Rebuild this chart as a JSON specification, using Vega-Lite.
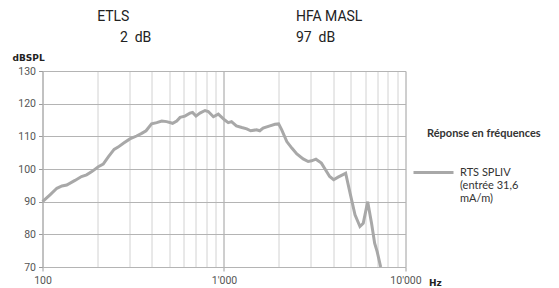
{
  "$schema": "https://vega.github.io/schema/vega-lite/v6.json",
  "autosize": "none",
  "width": 363,
  "height": 196,
  "padding": {"left": 42.5, "top": 71, "right": 153.5, "bottom": 21},
  "background": "white",
  "config": {"view": {"stroke": null}, "font": "Roboto"},
  "datasets": {
    "curve": [
      {"f": 100, "db": 90.0}, {"f": 110, "db": 92.1}, {"f": 120, "db": 94.1}, {"f": 128, "db": 94.8},
      {"f": 136, "db": 95.1}, {"f": 151, "db": 96.5}, {"f": 164, "db": 97.7}, {"f": 175, "db": 98.2},
      {"f": 187, "db": 99.2}, {"f": 203, "db": 100.7}, {"f": 216, "db": 101.5}, {"f": 231, "db": 103.8},
      {"f": 248, "db": 106.0}, {"f": 261, "db": 106.7}, {"f": 279, "db": 107.9}, {"f": 303, "db": 109.2},
      {"f": 330, "db": 110.1}, {"f": 352, "db": 110.9}, {"f": 372, "db": 111.7}, {"f": 399, "db": 113.8},
      {"f": 426, "db": 114.2}, {"f": 454, "db": 114.7}, {"f": 483, "db": 114.5}, {"f": 521, "db": 114.0},
      {"f": 549, "db": 114.7}, {"f": 573, "db": 115.8}, {"f": 609, "db": 116.2}, {"f": 649, "db": 117.1},
      {"f": 671, "db": 117.3}, {"f": 701, "db": 116.2}, {"f": 737, "db": 117.1}, {"f": 786, "db": 117.9},
      {"f": 819, "db": 117.6}, {"f": 874, "db": 116.0}, {"f": 930, "db": 116.8}, {"f": 1010, "db": 115.0},
      {"f": 1056, "db": 114.2}, {"f": 1100, "db": 114.5}, {"f": 1170, "db": 113.2}, {"f": 1253, "db": 112.7},
      {"f": 1335, "db": 112.3}, {"f": 1403, "db": 111.7}, {"f": 1510, "db": 112.0}, {"f": 1575, "db": 111.7},
      {"f": 1642, "db": 112.5}, {"f": 1790, "db": 113.2}, {"f": 1910, "db": 113.7}, {"f": 2000, "db": 113.8},
      {"f": 2080, "db": 112.0}, {"f": 2218, "db": 108.4}, {"f": 2364, "db": 106.4}, {"f": 2520, "db": 104.6},
      {"f": 2730, "db": 103.1}, {"f": 2910, "db": 102.3}, {"f": 3040, "db": 102.5}, {"f": 3210, "db": 103.0},
      {"f": 3440, "db": 101.8}, {"f": 3630, "db": 99.7}, {"f": 3820, "db": 97.7}, {"f": 4020, "db": 96.7},
      {"f": 4250, "db": 97.5}, {"f": 4500, "db": 98.2}, {"f": 4680, "db": 98.7}, {"f": 4950, "db": 92.6},
      {"f": 5270, "db": 86.0}, {"f": 5610, "db": 82.4}, {"f": 5850, "db": 83.4}, {"f": 6190, "db": 90.0},
      {"f": 6500, "db": 83.4}, {"f": 6760, "db": 77.3}, {"f": 6980, "db": 74.7}, {"f": 7300, "db": 70.0}
    ],
    "notes": [
      {"f": 200, "db": 146.5, "label": "ETLS"},
      {"f": 267, "db": 140.1, "label": "2\u00a0 dB"},
      {"f": 2490, "db": 146.5, "label": "HFA MASL"},
      {"f": 2490, "db": 140.1, "label": "97\u00a0 dB"}
    ]
  },
  "resolve": {"axis": {"x": "independent"}},
  "layer": [
    {
      "data": {"name": "curve"},
      "transform": [{"calculate": "'RTS SPLIV'", "as": "series"}],
      "mark": {"type": "line", "strokeWidth": 3, "interpolate": "linear"},
      "encoding": {
        "x": {
          "field": "f", "type": "quantitative",
          "scale": {"type": "log", "domain": [100, 10000], "nice": false},
          "axis": {
            "orient": "bottom",
            "values": [100, 200, 300, 400, 500, 600, 700, 800, 900, 1000, 2000, 3000, 4000, 5000, 6000, 7000, 8000, 9000, 10000],
            "grid": true, "gridColor": "#d2d2d2", "gridWidth": 1,
            "labels": false, "ticks": false, "domain": false, "title": null
          }
        },
        "y": {
          "field": "db", "type": "quantitative",
          "scale": {"domain": [70, 130], "nice": false, "zero": false},
          "axis": {
            "values": [70, 80, 90, 100, 110, 120, 130], "labelOverlap": false,
            "grid": true, "gridColor": "#b4b4b4",
            "domainColor": "#b4b4b4", "tickColor": "#9a9a9a", "tickSize": 4,
            "labelColor": "#555555", "labelFontSize": 10.5, "labelFont": "Roboto", "labelPadding": 3,
            "title": "dBSPL", "titleAngle": 0, "titleAlign": "left", "titleBaseline": "middle",
            "titleX": -30.5, "titleY": -14, "titleFont": "DejaVu Sans", "titleFontSize": 9,
            "titleFontWeight": "bold", "titleColor": "#222222"
          }
        },
        "color": {
          "field": "series", "type": "nominal",
          "scale": {"range": ["#a8a8a8"]},
          "legend": {
            "orient": "none", "legendX": 369.5, "legendY": 57,
            "title": "Réponse en fréquences",
            "titleFont": "Lato", "titleFontSize": 11, "titleFontWeight": "bold", "titleColor": "#333333",
            "titlePadding": 12,
            "symbolType": "stroke", "symbolSize": 1600, "symbolStrokeWidth": 3, "symbolStrokeColor": "#a8a8a8",
            "labelFont": "Lato", "labelFontSize": 11, "labelColor": "#333333",
            "labelBaseline": "top", "labelOffset": 5,
            "labelExpr": "['RTS SPLIV', '(entrée 31,6', 'mA/m)']",
            "encode": {
              "labels": {"update": {"dy": {"value": -6}}},
              "title": {"update": {"dx": {"value": 15}}}
            }
          }
        }
      }
    },
    {
      "data": {"name": "notes"},
      "mark": {"type": "text", "align": "left", "baseline": "middle", "font": "Roboto", "fontSize": 14, "color": "#222222"},
      "encoding": {
        "x": {
          "field": "f", "type": "quantitative",
          "scale": {"type": "log", "domain": [100, 10000], "nice": false},
          "axis": {
            "orient": "bottom",
            "values": [100, 1000, 10000], "labelFlush": false, "labelOverlap": false,
            "grid": true, "gridColor": "#b4b4b4",
            "domainColor": "#b4b4b4", "tickColor": "#9a9a9a", "tickSize": 4,
            "labelColor": "#555555", "labelFontSize": 10.5, "labelFont": "Roboto", "labelPadding": 4,
            "labelExpr": "datum.value == 100 ? '100' : datum.value == 1000 ? '1\\'000' : '10\\'000'",
            "title": "Hz", "titleX": 386, "titleY": 15, "titleAlign": "left", "titleBaseline": "middle",
            "titleFont": "DejaVu Sans", "titleFontSize": 9, "titleFontWeight": "bold", "titleColor": "#222222"
          }
        },
        "y": {
          "field": "db", "type": "quantitative",
          "scale": {"domain": [70, 130], "nice": false, "zero": false},
          "axis": {
            "values": [70, 80, 90, 100, 110, 120, 130], "labelOverlap": false,
            "grid": true, "gridColor": "#b4b4b4",
            "domainColor": "#b4b4b4", "tickColor": "#9a9a9a", "tickSize": 4,
            "labelColor": "#555555", "labelFontSize": 10.5, "labelFont": "Roboto", "labelPadding": 3,
            "title": "dBSPL", "titleAngle": 0, "titleAlign": "left", "titleBaseline": "middle",
            "titleX": -30.5, "titleY": -14, "titleFont": "DejaVu Sans", "titleFontSize": 9,
            "titleFontWeight": "bold", "titleColor": "#222222"
          }
        },
        "text": {"field": "label"}
      }
    }
  ]
}
